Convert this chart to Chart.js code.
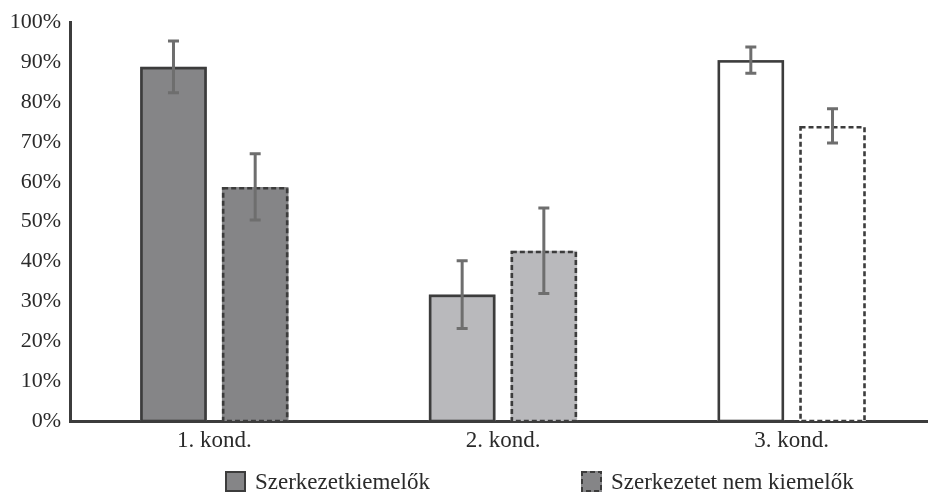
<!DOCTYPE html>
<html>
<head>
<meta charset="utf-8">
<script src="https://cdn.jsdelivr.net/npm/chart.js@4/dist/chart.umd.min.js"></script>
<style>
  html, body { margin: 0; padding: 0; background: #ffffff; overflow: hidden; }
  /* the plot runs slightly past the right edge of the visible frame */
  #wrap { width: 928px; height: 495px; overflow: hidden; }
</style>
</head>
<body>
<div id="wrap"><canvas id="chart" width="936" height="495"></canvas></div>
<script>
// Conditions and the two groups of participants
const categories = ['1. kond.', '2. kond.', '3. kond.'];
const seriesNames = ['Szerkezetkiemelők', 'Szerkezetet nem kiemelők'];

// Mean accuracy (%) per condition
const highlighters = [88.8, 31.7, 90.5];
const nonHighlighters = [58.7, 42.7, 74.0];

// Error bar half-widths (%)
const highlightersErr = [6.5, 8.5, 3.3];
const nonHighlightersErr = [8.3, 10.7, 4.3];

// Y axis ticks
const yMin = 0;
const yMax = 100;
const yStep = 10;

const FONT = '"Liberation Serif", "Times New Roman", serif';
const INK = '#3c3c3c';
const ERR = '#6e6e6e';
const conditionFills = ['#858587', '#b9b9bc', '#ffffff'];
const legendFill = '#858587';

// Bar outlines (solid or dashed) drawn over the library's bar geometry
const outlinePlugin = {
  id: 'outlines',
  afterDatasetsDraw(chart) {
    const ctx = chart.ctx;
    chart.data.datasets.forEach((ds, di) => {
      const meta = chart.getDatasetMeta(di);
      const lw = 2.6;
      ctx.save();
      ctx.strokeStyle = INK;
      ctx.lineWidth = lw;
      ctx.setLineDash(ds.outlineDash || []);
      meta.data.forEach(el => {
        const p = el.getProps(['x', 'y', 'width', 'base'], true);
        const left = p.x - p.width / 2;
        ctx.strokeRect(left + lw / 2, p.y + lw / 2, p.width - lw, p.base - p.y - lw / 2);
      });
      ctx.restore();
    });
  }
};

// Error bars from the value ± error, through the y scale
const errorBarPlugin = {
  id: 'errorBars',
  afterDatasetsDraw(chart) {
    const ctx = chart.ctx;
    const yScale = chart.scales.y;
    chart.data.datasets.forEach((ds, di) => {
      const meta = chart.getDatasetMeta(di);
      ctx.save();
      ctx.strokeStyle = ERR;
      ctx.lineWidth = 3;
      meta.data.forEach((el, i) => {
        const v = ds.data[i];
        const e = ds.errors[i];
        const yt = yScale.getPixelForValue(v + e);
        const yb = yScale.getPixelForValue(v - e);
        const x = el.x;
        const cap = 5.5;
        ctx.beginPath();
        ctx.moveTo(x, yt); ctx.lineTo(x, yb);
        ctx.moveTo(x - cap, yt); ctx.lineTo(x + cap, yt);
        ctx.moveTo(x - cap, yb); ctx.lineTo(x + cap, yb);
        ctx.stroke();
      });
      ctx.restore();
    });
  }
};

// Legend under the axis labels with solid and dashed sample boxes
const legendPlugin = {
  id: 'boxLegend',
  afterDraw(chart) {
    const ctx = chart.ctx;
    const area = chart.chartArea;
    const starts = [area.left + 155, area.left + 511];
    const box = 21;
    const cy = 481.5;
    ctx.save();
    ctx.font = '23px ' + FONT;
    ctx.textBaseline = 'middle';
    chart.data.datasets.forEach((ds, di) => {
      const x = starts[di];
      ctx.fillStyle = legendFill;
      ctx.fillRect(x, cy - box / 2, box, box);
      ctx.strokeStyle = INK;
      ctx.lineWidth = 2;
      ctx.setLineDash(ds.outlineDash || []);
      ctx.strokeRect(x + 1, cy - box / 2 + 1, box - 2, box - 2);
      ctx.setLineDash([]);
      ctx.fillStyle = '#2a2a2a';
      ctx.fillText(ds.label, x + box + 9, cy + 1);
    });
    ctx.restore();
  }
};

new Chart(document.getElementById('chart'), {
  type: 'bar',
  data: {
    labels: categories,
    datasets: [
      {
        label: seriesNames[0],
        data: highlighters,
        errors: highlightersErr,
        backgroundColor: conditionFills,
        borderWidth: 0,
        outlineDash: [],
        categoryPercentage: 0.566,
        barPercentage: 0.815
      },
      {
        label: seriesNames[1],
        data: nonHighlighters,
        errors: nonHighlightersErr,
        backgroundColor: conditionFills,
        borderWidth: 0,
        outlineDash: [5, 3],
        categoryPercentage: 0.566,
        barPercentage: 0.815
      }
    ]
  },
  options: {
    responsive: false,
    animation: false,
    devicePixelRatio: 1,
    layout: { padding: { top: 21, right: 0, bottom: 0, left: 0 } },
    plugins: {
      legend: { display: false },
      tooltip: { enabled: false }
    },
    scales: {
      x: {
        grid: { display: false, drawTicks: false },
        border: { display: true, color: INK, width: 3 },
        ticks: {
          color: '#2a2a2a',
          font: { family: FONT, size: 23 },
          padding: 6
        },
        afterFit(scale) { scale.height = 74; }
      },
      y: {
        min: yMin,
        max: yMax,
        grid: { display: false, drawTicks: false },
        border: { display: true, color: INK, width: 3 },
        ticks: {
          stepSize: yStep,
          color: '#2a2a2a',
          font: { family: FONT, size: 22 },
          padding: 9,
          callback: v => v + '%'
        },
        afterFit(scale) { scale.width = 70; }
      }
    }
  },
  plugins: [outlinePlugin, errorBarPlugin, legendPlugin]
});
</script>
</body>
</html>
